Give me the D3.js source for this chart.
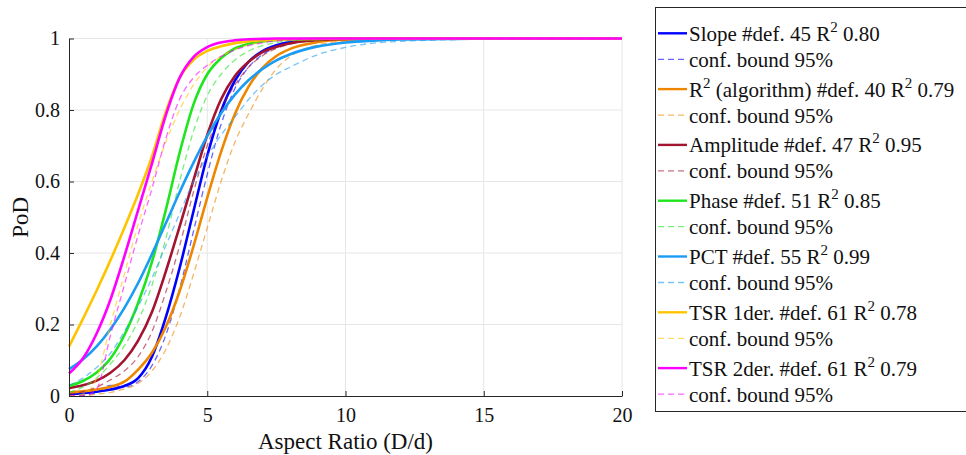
<!DOCTYPE html>
<html>
<head>
<meta charset="utf-8">
<script src="https://cdn.jsdelivr.net/npm/d3@7"></script>
<style>
  html, body { margin: 0; padding: 0; background: #fff; }
  svg { display: block; font-family: "Liberation Serif", "Times New Roman", serif; }
</style>
</head>
<body>
<svg id="chart" width="966" height="455"></svg>
<script>
// Aspect ratio sample points shared by every curve
const xValues = [0, 0.5, 1, 1.5, 2, 2.5, 3, 3.5, 4, 4.5, 5, 5.5, 6, 6.5, 7, 7.5, 8, 9, 10, 11, 12, 14, 16, 18, 20];

// Probability of detection per method (fit) and its 95% confidence bound
const slope          = [0.005, 0.008, 0.012, 0.018, 0.028, 0.05, 0.11, 0.22, 0.358, 0.516, 0.672, 0.797, 0.882, 0.935, 0.965, 0.981, 0.99, 0.997, 0.999, 1, 1, 1, 1, 1, 1];
const slopeBound     = [0, 0.002, 0.01, 0.03, 0.025, 0.04, 0.085, 0.17, 0.3, 0.46, 0.62, 0.76, 0.86, 0.92, 0.955, 0.975, 0.986, 0.996, 0.999, 1, 1, 1, 1, 1, 1];
const rsq            = [0.01, 0.013, 0.018, 0.026, 0.04, 0.074, 0.121, 0.193, 0.293, 0.418, 0.555, 0.683, 0.789, 0.866, 0.918, 0.951, 0.971, 0.99, 0.997, 0.999, 1, 1, 1, 1, 1];
const rsqBound       = [0, 0, 0.005, 0.01, 0.02, 0.035, 0.07, 0.13, 0.22, 0.34, 0.47, 0.6, 0.71, 0.79, 0.86, 0.915, 0.95, 0.982, 0.993, 0.998, 1, 1, 1, 1, 1];
const amplitude      = [0.022, 0.03, 0.043, 0.065, 0.1, 0.155, 0.235, 0.348, 0.474, 0.603, 0.73, 0.83, 0.895, 0.935, 0.962, 0.977, 0.987, 0.996, 0.999, 1, 1, 1, 1, 1, 1];
const amplitudeBound = [0.005, 0.012, 0.025, 0.045, 0.07, 0.11, 0.18, 0.29, 0.42, 0.57, 0.7, 0.8, 0.87, 0.92, 0.952, 0.972, 0.984, 0.995, 0.999, 1, 1, 1, 1, 1, 1];
const phase          = [0.028, 0.042, 0.066, 0.105, 0.17, 0.26, 0.375, 0.52, 0.68, 0.815, 0.9, 0.945, 0.972, 0.985, 0.992, 0.996, 0.998, 0.999, 1, 1, 1, 1, 1, 1, 1];
const phaseBound     = [0.01, 0.025, 0.05, 0.09, 0.14, 0.21, 0.31, 0.44, 0.6, 0.74, 0.84, 0.9, 0.94, 0.965, 0.98, 0.989, 0.994, 0.998, 1, 1, 1, 1, 1, 1, 1];
const pct            = [0.075, 0.102, 0.139, 0.187, 0.246, 0.316, 0.397, 0.483, 0.57, 0.652, 0.727, 0.791, 0.843, 0.884, 0.915, 0.939, 0.956, 0.978, 0.989, 0.994, 0.997, 0.999, 1, 1, 1];
const pctBound       = [0.03, 0.05, 0.08, 0.12, 0.18, 0.25, 0.33, 0.42, 0.51, 0.6, 0.67, 0.73, 0.78, 0.83, 0.87, 0.9, 0.92, 0.955, 0.975, 0.987, 0.992, 0.997, 1, 1, 1];
const tsr1           = [0.138, 0.215, 0.295, 0.38, 0.47, 0.565, 0.67, 0.795, 0.89, 0.94, 0.965, 0.978, 0.987, 0.992, 0.995, 0.997, 0.998, 0.999, 1, 1, 1, 1, 1, 1, 1];
const tsr1Bound      = [0, 0.005, 0.05, 0.2, 0.34, 0.48, 0.6, 0.71, 0.8, 0.87, 0.92, 0.95, 0.97, 0.982, 0.99, 0.994, 0.997, 0.999, 1, 1, 1, 1, 1, 1, 1];
const tsr2           = [0.063, 0.105, 0.175, 0.27, 0.39, 0.52, 0.65, 0.785, 0.89, 0.948, 0.976, 0.989, 0.995, 0.998, 0.999, 1, 1, 1, 1, 1, 1, 1, 1, 1, 1];
const tsr2Bound      = [0, 0, 0.02, 0.17, 0.31, 0.45, 0.58, 0.72, 0.83, 0.89, 0.925, 0.95, 0.968, 0.98, 0.988, 0.993, 0.996, 0.999, 1, 1, 1, 1, 1, 1, 1];

// Legend captions (a lone "2" is drawn as a superscript)
const methodNames = [
  ["Slope #def. 45 R", "2", " 0.80"],
  ["R", "2", " (algorithm) #def. 40 R", "2", " 0.79"],
  ["Amplitude #def. 47 R", "2", " 0.95"],
  ["Phase #def. 51 R", "2", " 0.85"],
  ["PCT #def. 55 R", "2", " 0.99"],
  ["TSR 1der. #def. 61 R", "2", " 0.78"],
  ["TSR 2der. #def. 61 R", "2", " 0.79"]
];
const boundLabel = "conf. bound 95%";
const methodColors = ["#0000ff", "#ee8600", "#a2142f", "#1ee61e", "#1a9cf4", "#ffc400", "#ff00ff"];
const fits = [slope, rsq, amplitude, phase, pct, tsr1, tsr2];
const bounds = [slopeBound, rsqBound, amplitudeBound, phaseBound, pctBound, tsr1Bound, tsr2Bound];

const xTicks = [0, 5, 10, 15, 20];
const yTicks = [0, 0.2, 0.4, 0.6, 0.8, 1];

const svg = d3.select("#chart");
const plot = { left: 69, right: 622, top: 38.5, bottom: 396 };

const x = d3.scaleLinear().domain([0, 20]).range([plot.left, plot.right]);
const y = d3.scaleLinear().domain([0, 1]).range([plot.bottom, plot.top]);

// Grid
const grid = svg.append("g").attr("stroke", "#e6e6e6").attr("stroke-width", 1);
grid.selectAll("line.gx").data(xTicks.filter(d => d > 0)).join("line")
  .attr("x1", d => x(d)).attr("x2", d => x(d))
  .attr("y1", plot.top).attr("y2", plot.bottom);
grid.selectAll("line.gy").data(yTicks.filter(d => d > 0)).join("line")
  .attr("x1", plot.left).attr("x2", plot.right)
  .attr("y1", d => y(d)).attr("y2", d => y(d));

// Curves
const line = d3.line()
  .x((d, i) => x(xValues[i]))
  .y(d => y(d))
  .curve(d3.curveMonotoneX);

const curves = svg.append("g").attr("fill", "none");
methodColors.forEach((c, k) => {
  curves.append("path")
    .attr("d", line(fits[k]))
    .attr("stroke", c)
    .attr("stroke-width", 2.6);
  curves.append("path")
    .attr("d", line(bounds[k]))
    .attr("stroke", c)
    .attr("stroke-opacity", 0.6)
    .attr("stroke-width", 1.3)
    .attr("stroke-dasharray", "6,4");
});

// Axes (ticks point inward)
const axisColor = "#262626";
const xAxis = svg.append("g")
  .attr("transform", `translate(0,${plot.bottom})`)
  .call(d3.axisBottom(x).tickValues(xTicks).tickFormat(d3.format("d"))
    .tickSizeInner(-5).tickSizeOuter(0).tickPadding(12));
const yAxis = svg.append("g")
  .attr("transform", `translate(${plot.left},0)`)
  .call(d3.axisLeft(y).tickValues(yTicks).tickFormat(d => d === 0 || d === 1 ? String(d) : d3.format(".1f")(d))
    .tickSizeInner(-5).tickSizeOuter(0).tickPadding(9));
[xAxis, yAxis].forEach(a => {
  a.select(".domain").attr("stroke", axisColor);
  a.selectAll(".tick line").attr("stroke", axisColor);
  a.selectAll(".tick text")
    .attr("fill", "#111")
    .style("font-family", "'Liberation Serif', 'Times New Roman', serif")
    .style("font-size", "20px");
});

svg.append("text")
  .attr("x", (plot.left + plot.right) / 2)
  .attr("y", 449)
  .attr("text-anchor", "middle")
  .attr("fill", "#111")
  .style("font-size", "23px")
  .text("Aspect Ratio (D/d)");

svg.append("text")
  .attr("transform", `translate(28,${(plot.top + plot.bottom) / 2}) rotate(-90)`)
  .attr("text-anchor", "middle")
  .attr("fill", "#111")
  .style("font-size", "23px")
  .text("PoD");

// Legend
const legend = svg.append("g");
legend.append("rect")
  .attr("x", 655.5).attr("y", 7.5)
  .attr("width", 330).attr("height", 404)
  .attr("fill", "#fff")
  .attr("stroke", axisColor).attr("stroke-width", 1);

const rowStep = 55.8;
methodNames.forEach((parts, k) => {
  const yMain = 33.3 + k * rowStep;
  const yBound = yMain + 26;
  legend.append("line")
    .attr("x1", 658).attr("x2", 687)
    .attr("y1", yMain).attr("y2", yMain)
    .attr("stroke", methodColors[k]).attr("stroke-width", 2.4);
  const t = legend.append("text")
    .attr("x", 689).attr("y", yMain + 7.5)
    .attr("fill", "#111").style("font-size", "21px");
  let raised = false;
  parts.forEach(p => {
    const span = t.append("tspan").text(p);
    if (p === "2") {
      span.attr("dy", -9).style("font-size", "15px");
      raised = true;
    } else if (raised) {
      span.attr("dy", 9);
      raised = false;
    }
  });
  legend.append("line")
    .attr("x1", 658).attr("x2", 687)
    .attr("y1", yBound).attr("y2", yBound)
    .attr("stroke", methodColors[k]).attr("stroke-opacity", 0.6)
    .attr("stroke-width", 1.3).attr("stroke-dasharray", "6,4");
  legend.append("text")
    .attr("x", 689).attr("y", yBound + 7.5)
    .attr("fill", "#111").style("font-size", "21px")
    .text(boundLabel);
});
</script>
</body>
</html>
